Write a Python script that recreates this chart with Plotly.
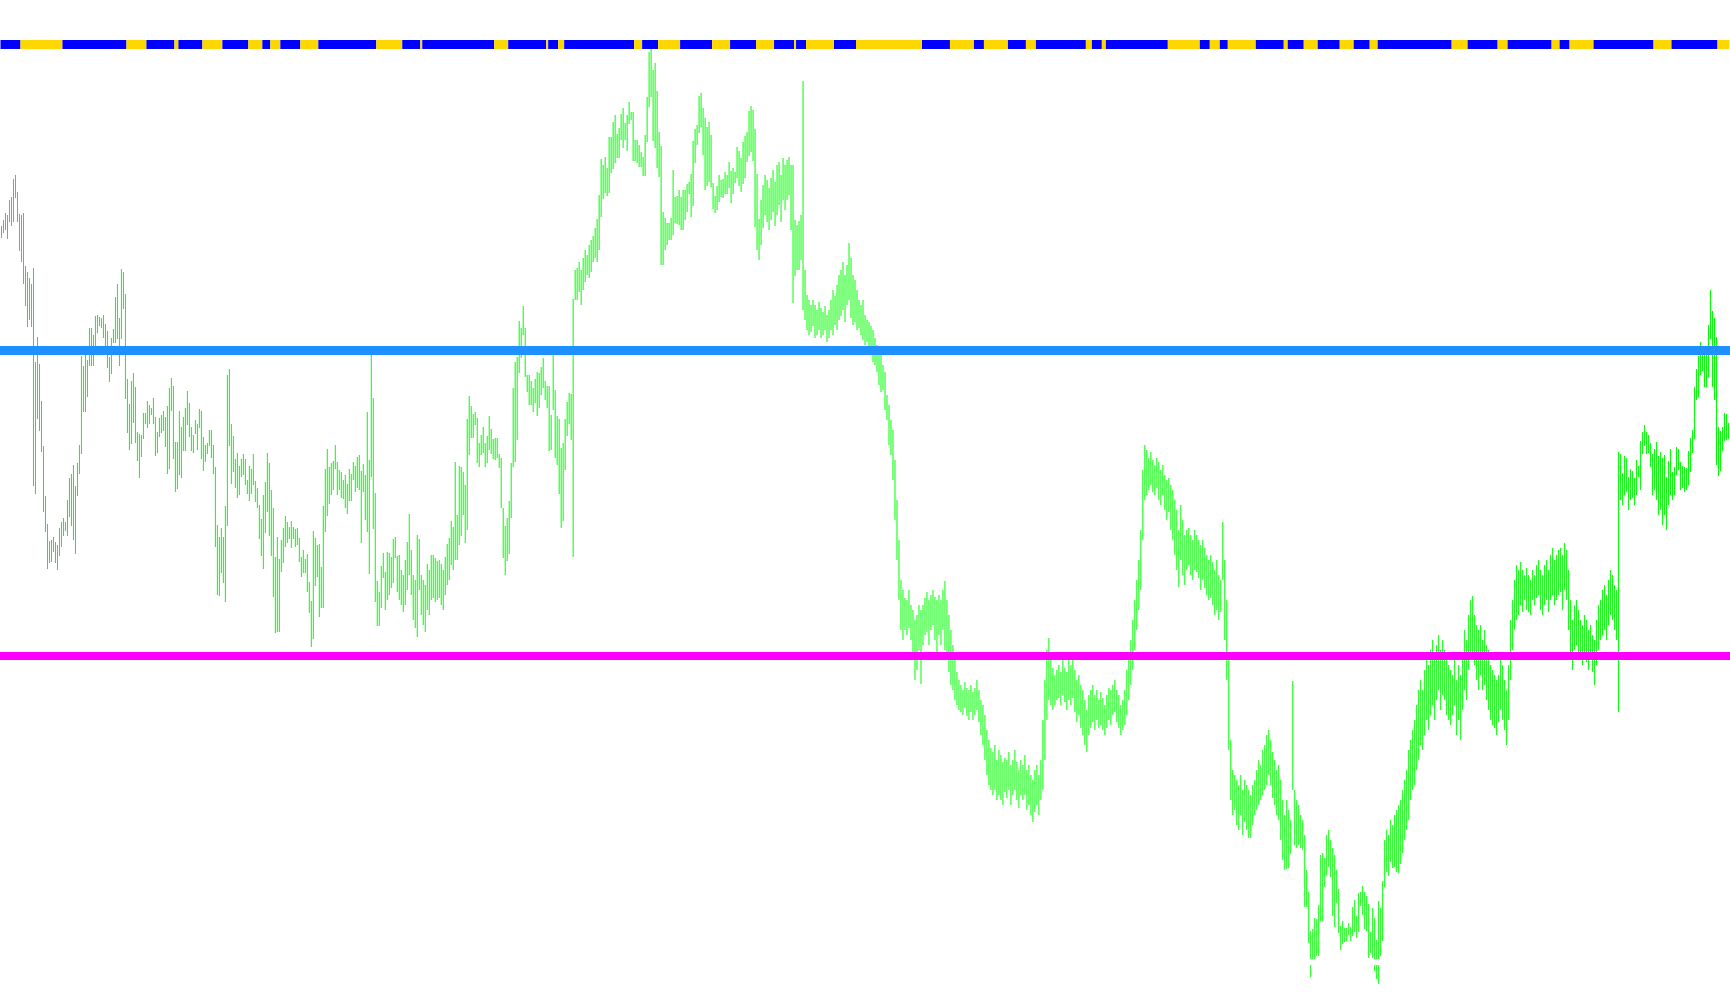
import plotly.graph_objects as go

# ---------------- data (price units) ----------------
highs = [
774,780,787,785,800,803,821,825,808,786,
785,787,734,728,722,716,732,638,663,636,
599,554,504,476,459,460,463,458,455,472,
478,482,478,500,522,526,535,514,537,555,
644,634,645,640,672,672,665,684,685,683,
682,685,676,669,643,662,671,703,716,682,
731,728,706,621,596,619,627,613,568,566,
565,587,587,599,595,592,602,583,568,582,
585,589,583,594,612,622,614,558,558,589,
573,583,592,609,597,573,565,580,576,591,
589,563,555,557,570,570,555,533,475,463,
472,463,494,625,631,576,564,541,547,534,
541,546,541,520,534,531,546,519,512,495,
481,505,518,547,537,510,492,443,463,441,
460,472,484,478,473,479,473,471,472,462,
443,450,441,446,418,399,469,462,455,456,
433,494,531,551,533,537,539,555,538,530,
528,520,525,516,531,526,538,534,543,545,
529,536,525,588,540,650,602,507,419,408,
434,447,428,448,447,443,461,463,444,445,
430,425,440,458,486,450,425,420,465,461,
425,420,415,436,430,445,445,442,439,440,
436,430,443,456,462,479,473,538,485,534,
533,528,515,581,604,594,586,588,582,557,
565,573,557,564,584,571,561,562,562,546,
542,492,474,482,499,537,612,638,643,679,
672,694,672,625,625,619,612,621,628,627,
633,642,619,614,614,585,648,610,584,581,
552,557,581,598,607,606,701,730,732,738,
730,742,750,745,755,760,764,772,781,805,
841,835,843,832,863,863,878,885,866,872,
886,892,877,885,898,888,888,860,860,855,
848,843,865,903,948,951,930,937,909,868,
854,788,782,777,777,782,830,803,804,810,
803,810,810,816,818,826,859,871,875,904,
907,892,882,873,878,865,817,804,814,825,
820,821,828,825,838,829,832,828,853,849,
842,858,864,868,889,894,890,871,826,781,
800,815,825,820,812,822,830,818,835,838,
825,842,835,840,843,835,835,780,775,779,
785,919,730,705,700,695,700,695,690,698,
692,688,694,685,690,700,710,704,715,725,
730,738,725,735,757,742,725,720,710,700,
695,700,685,680,678,674,670,662,655,650,
645,635,628,605,595,580,570,540,500,460,
420,410,402,400,410,395,390,380,385,395,
390,395,402,408,400,405,410,403,400,405,
400,410,419,400,385,370,355,340,328,320,
315,310,318,312,310,315,308,312,320,310,
300,295,285,270,260,252,248,255,240,250,
245,238,242,240,248,235,240,250,238,230,
240,235,245,230,235,225,220,230,235,225,
240,280,320,350,362,340,332,325,330,335,
328,340,332,328,340,335,342,330,320,325,
315,310,300,290,305,310,315,305,310,300,
308,302,295,305,312,310,315,320,310,305,
295,300,310,330,345,360,380,400,420,440,
470,530,555,550,542,548,540,535,542,538,
530,535,525,520,522,515,510,500,490,470,
495,480,465,470,472,465,460,470,465,460,
455,460,452,445,440,445,438,430,440,425,
420,478,440,400,340,260,230,225,220,215,
225,210,220,215,210,205,215,220,230,240,
235,250,255,265,270,260,248,240,230,235,
220,200,185,200,190,180,319,210,200,195,
185,180,165,130,108,69,71,82,81,95,
145,147,142,165,170,160,152,145,130,111,
74,79,72,72,77,73,93,100,84,107,
108,114,108,104,96,68,92,82,60,99,
92,119,160,170,165,180,175,185,190,195,
200,210,220,230,250,260,270,280,295,310,
320,310,330,340,335,350,360,340,355,365,
350,360,350,340,335,330,325,340,320,335,
325,345,370,360,385,400,404,385,375,370,
375,360,370,355,350,335,330,325,320,325,
340,335,320,310,335,380,400,420,435,430,
438,430,425,432,425,420,430,425,435,440,
430,425,435,440,430,445,452,440,445,450,
452,445,457,450,430,400,380,395,400,390,
380,375,385,380,370,375,365,360,380,395,
400,410,415,405,420,430,425,415,410,548,
546,527,544,542,523,531,529,522,540,534,
559,568,575,568,565,557,546,551,558,544,
548,542,545,523,539,551,528,533,553,551,
538,534,533,532,549,562,570,613,631,644,
658,645,654,645,675,710,689,682,663,573,
569,573,587,586,577,
]

lows = [
762,767,770,761,778,774,778,802,778,749,
738,716,694,673,680,673,514,506,581,569,
548,488,468,431,437,438,448,437,430,444,
453,464,469,464,483,474,460,446,504,526,
546,588,588,603,634,634,634,653,667,674,
672,662,653,632,618,626,657,657,661,634,
661,691,601,567,550,556,577,557,539,522,
543,561,576,572,576,585,576,544,547,563,
567,569,553,526,531,589,541,508,511,525,
522,549,549,575,563,549,547,566,550,572,
541,529,538,546,554,542,526,453,405,404,
427,417,398,474,554,516,528,512,502,505,
523,525,515,506,499,506,515,498,492,461,
444,431,467,488,464,444,403,367,368,368,
428,437,453,457,461,452,461,453,455,438,
423,427,427,408,387,353,361,414,423,383,
392,392,468,484,496,505,510,531,505,510,
502,501,492,486,499,499,520,508,512,510,
457,508,480,468,426,523,471,398,374,374,
392,422,390,400,405,412,417,442,408,400,
395,388,395,410,425,405,380,372,363,410,
385,375,368,390,385,400,402,398,400,402,
395,390,405,415,420,435,430,440,440,455,
464,485,457,470,545,562,562,575,537,533,
545,547,533,537,550,546,541,540,542,532,
492,442,425,439,446,482,533,538,560,627,
642,665,623,608,595,595,588,597,584,592,
605,612,600,592,549,550,590,542,535,506,
472,479,530,564,576,560,443,700,700,708,
695,710,718,725,722,728,738,742,738,750,
783,801,807,804,807,827,831,837,842,842,
860,852,860,849,876,880,839,839,837,833,
833,824,824,858,893,903,859,852,832,823,
735,735,750,755,760,760,765,777,776,775,
770,770,780,788,806,783,794,837,855,867,
873,845,810,814,818,813,791,787,790,798,
803,802,806,806,812,797,806,817,822,814,
808,816,822,838,844,848,839,773,750,740,
755,772,785,778,770,780,788,774,785,795,
778,800,790,800,805,770,697,724,730,730,
740,690,680,670,665,668,674,662,665,670,
662,665,670,658,662,670,665,675,670,680,
684,690,678,695,700,682,675,678,670,672,
665,660,655,658,650,648,638,635,628,615,
608,610,590,580,555,545,520,480,440,400,
370,360,370,365,372,360,340,320,330,350,
316,355,365,368,355,370,375,360,348,365,
355,370,350,340,328,315,310,300,295,290,
288,285,292,284,280,288,280,285,290,278,
265,255,240,225,215,210,205,210,200,205,
200,195,208,202,210,195,205,210,200,192,
205,200,205,190,195,185,178,188,195,185,
200,210,240,280,300,295,290,295,300,302,
295,305,298,290,300,295,302,288,278,285,
272,265,255,248,265,272,278,270,280,272,
275,270,265,272,280,275,285,288,278,272,
265,270,275,285,300,315,330,350,370,390,
410,460,500,505,510,515,508,505,512,500,
495,505,490,480,488,470,460,445,430,413,
440,425,415,430,435,425,420,430,428,422,
410,420,412,405,400,402,395,385,390,380,
388,420,360,320,250,200,185,190,175,170,
185,165,178,170,162,162,175,185,190,195,
200,205,210,215,225,215,202,195,185,180,
160,140,130,131,132,146,210,155,152,155,
152,150,93,93,57,23,41,41,44,44,
79,79,113,124,133,123,84,73,97,67,
50,56,58,59,65,59,64,68,62,68,
94,85,71,69,42,47,42,29,21,16,
44,59,113,128,124,138,132,133,128,127,
136,147,160,170,180,200,210,215,230,240,
255,250,265,280,270,285,295,280,300,310,
290,305,300,285,280,275,285,295,265,280,
260,290,310,300,330,340,345,335,320,310,
325,310,315,300,290,280,275,272,265,278,
290,280,270,255,280,320,350,370,380,385,
395,388,400,390,388,385,400,395,402,405,
390,385,395,400,388,400,405,395,400,405,
408,390,410,400,370,340,330,350,355,345,
340,335,345,338,330,340,328,315,335,350,
360,365,370,360,375,385,380,370,360,288,
500,495,505,508,490,500,502,495,505,523,
510,546,554,546,547,533,505,510,500,485,
490,475,485,470,495,505,500,505,525,530,
510,512,508,510,515,528,547,561,600,603,
625,629,613,613,623,661,613,600,535,524,
529,549,559,560,561,
]

# horizontal levels
upper_level = 649.5     # blue level
lower_level = 344       # magenta level
hidden_level = 38       # white level

# state strip at top: bar index where each state run begins
state_starts = [0,10,31,63,73,87,89,101,111,124,
                131,135,140,150,159,188,201,210,211,247,
                254,273,274,279,282,317,321,329,340,356,
                365,378,387,397,398,403,417,428,461,475,
                487,492,504,513,518,543,546,551,553,584,
                600,605,610,614,628,642,644,652,659,670,
                677,685,689,726,734,749,754,776,780,785,
                797,827,836,859]
state_values = ["up", "down"] * (len(state_starts) // 2)
strip_level = (951, 960)

# ---------------- styles ----------------
BAR_COLOR = "#00ff00"
STATE_COLORS = {"up": "#0000ff", "down": "#ffd700"}
n = len(highs)

xs, ys = [], []
for i in range(n):
    xs += [i, i, None]
    ys += [lows[i], highs[i], None]

fig = go.Figure()
fig.add_trace(go.Scatter(x=xs, y=ys, mode="lines",
                         line=dict(color=BAR_COLOR, width=1),
                         hoverinfo="skip", connectgaps=False))

shapes = []
for k, s in enumerate(state_starts):
    e = state_starts[k + 1] if k + 1 < len(state_starts) else n
    shapes.append(dict(type="rect", xref="x", yref="y",
                       x0=s - 0.5, x1=e - 0.5,
                       y0=strip_level[0], y1=strip_level[1],
                       fillcolor=STATE_COLORS[state_values[k]],
                       line=dict(width=0), layer="above"))
shapes.append(dict(type="line", xref="paper", yref="y", x0=0, x1=1,
                   y0=upper_level, y1=upper_level,
                   line=dict(color="#1e90ff", width=9), layer="above"))
shapes.append(dict(type="line", xref="paper", yref="y", x0=0, x1=1,
                   y0=lower_level, y1=lower_level,
                   line=dict(color="#ff00ff", width=8), layer="above"))
shapes.append(dict(type="line", xref="paper", yref="y", x0=0, x1=1,
                   y0=hidden_level, y1=hidden_level,
                   line=dict(color="#ffffff", width=6), layer="above"))

fig.update_layout(
    width=1730, height=1005,
    margin=dict(l=0, r=0, t=0, b=0, pad=0),
    paper_bgcolor="white", plot_bgcolor="white",
    showlegend=False,
    shapes=shapes,
    xaxis=dict(visible=False, range=[-0.75, n - 0.25], fixedrange=True),
    yaxis=dict(visible=False, range=[-5, 1000], fixedrange=True),
)

fig.write_html("out.html", config={"displayModeBar": False},
               post_script="document.body.style.margin='0';document.body.style.overflow='hidden';")
